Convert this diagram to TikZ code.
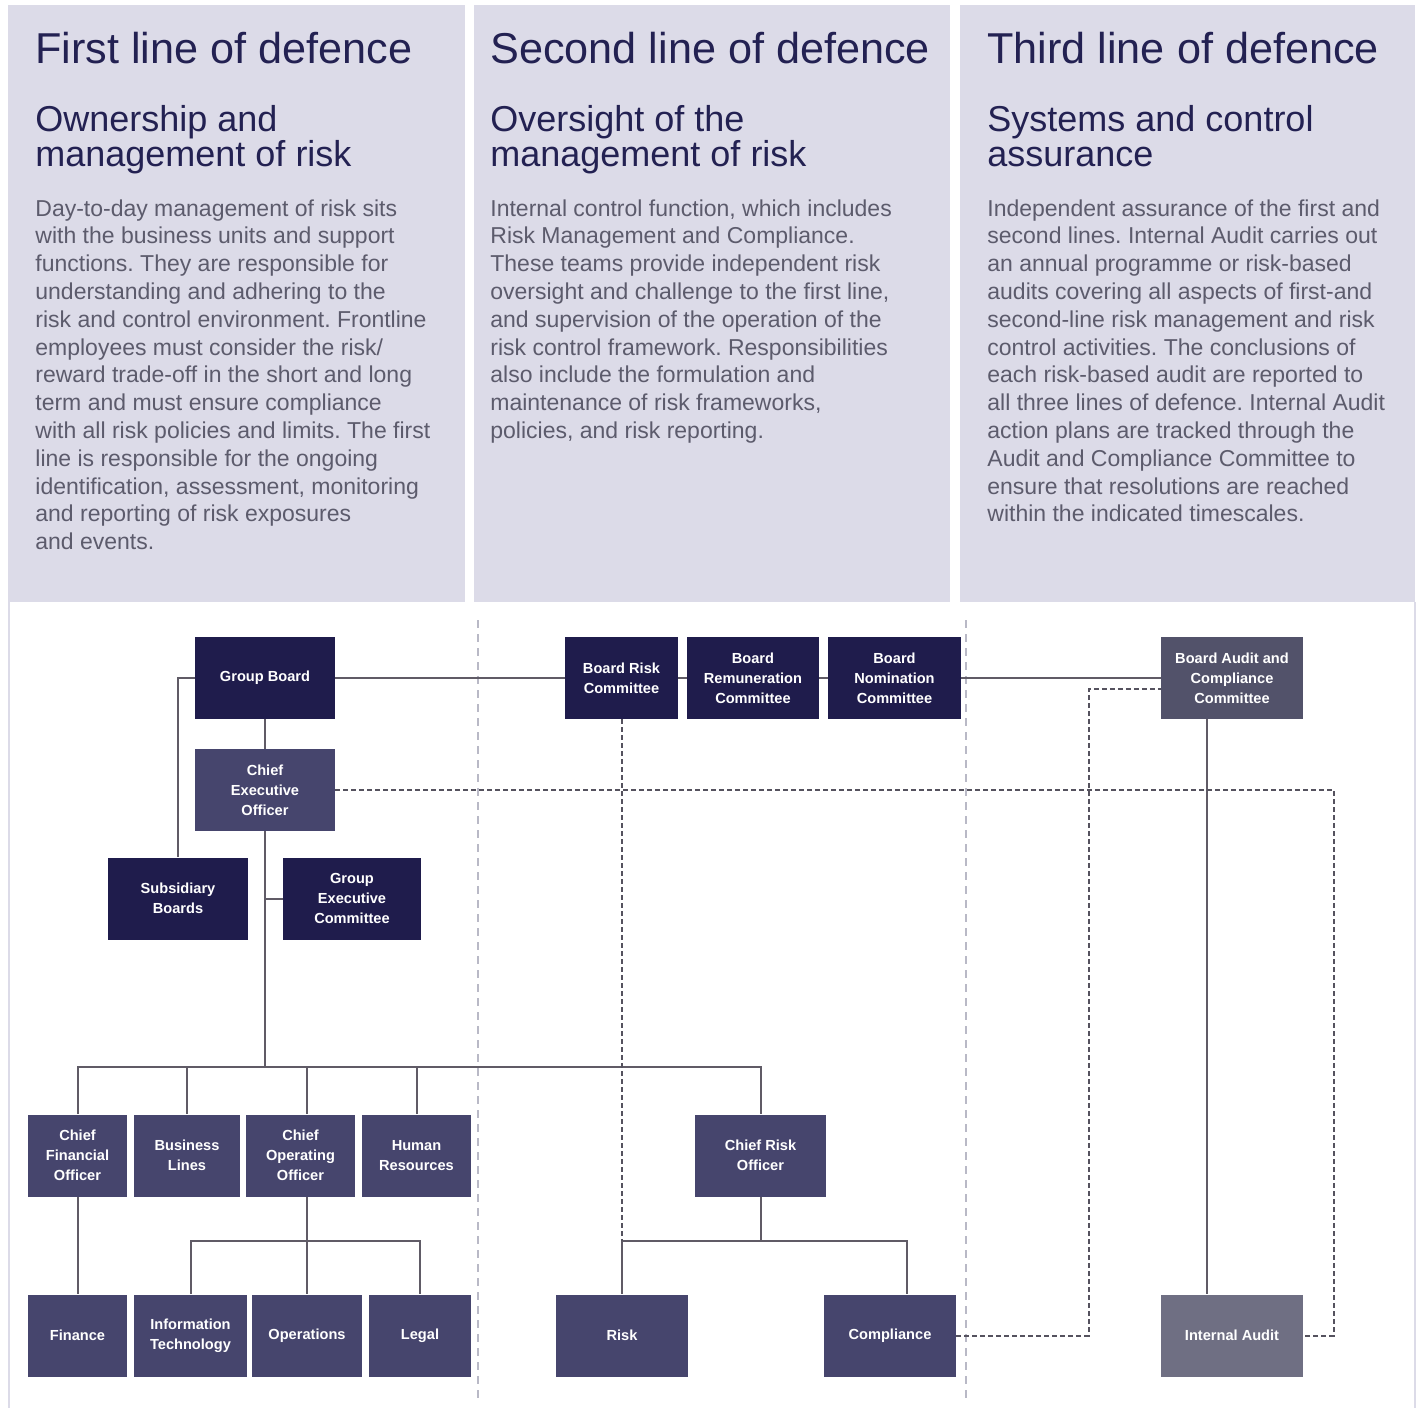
\documentclass[tikz,border=0pt]{standalone}
\usepackage{fontspec}
\setmainfont{Liberation Sans}
\usepackage{tikz}
\usetikzlibrary{positioning, calc}
\definecolor{LoDPanel}{RGB}{220, 219, 232}
\definecolor{LoDNavy}{RGB}{35, 33, 82}
\definecolor{LoDText}{RGB}{92, 91, 108}
\definecolor{LoDBoard}{RGB}{31, 28, 76}
\definecolor{LoDUnit}{RGB}{70, 69, 109}
\definecolor{LoDAudit}{RGB}{82, 82, 106}
\definecolor{LoDIA}{RGB}{111, 111, 131}
\definecolor{LoDLine}{RGB}{96, 91, 102}
\definecolor{LoDDash}{RGB}{85, 82, 94}
\definecolor{LoDSep}{RGB}{185, 185, 198}
\frenchspacing

\begin{document}
\begin{tikzpicture}[x=0.5pt, y=-0.5pt,
    box/.style={inner sep=0pt, minimum height=41pt, text=white, align=center,
                font=\fontsize{7.3}{10}\selectfont\bfseries},
    heading/.style={anchor=base west, inner sep=0pt, text=LoDNavy,
                font=\fontsize{21.6}{26}\selectfont},
    subheading/.style={anchor=base west, inner sep=0pt, text=LoDNavy, align=left,
                font=\fontsize{18}{17.5}\selectfont},
    bodytext/.style={anchor=base west, inner sep=0pt, text=LoDText, align=left,
                font=\fontsize{11.5}{13.9}\selectfont},
    link/.style={draw=LoDLine, line width=1pt},
    report/.style={draw=LoDDash, line width=1pt, dash pattern=on 2.5pt off 1.5pt},
    divider/.style={draw=LoDSep, line width=0.8pt, dash pattern=on 4pt off 3pt}]
  \useasboundingbox (0,0) rectangle (1423,1408);

  % the three panels (text nodes sit on the baseline of their last line)
  \fill[LoDPanel] (8,5) rectangle (465,602);
  \fill[LoDPanel] (474,5) rectangle (950,602);
  \fill[LoDPanel] (960,5) rectangle (1415,602);
  \draw[LoDPanel, line width=1pt] (9,602) -- (9,1408);
  \draw[LoDPanel, line width=1pt] (1415,602) -- (1415,1408);

  \node[heading] (head1) at (35,63) {First line of defence};
  \node[subheading] (sub1) at (35,166) {Ownership and\\management of risk};
  \node[bodytext] (body1) at (35,549.6)
       {Day-to-day management of risk sits\\with the business units and support\\functions. They are responsible for\\understanding and adhering to the\\risk and control environment. Frontline\\employees must consider the risk/\\reward trade-off in the short and long\\term and must ensure compliance\\with all risk policies and limits. The first\\line is responsible for the ongoing\\identification, assessment, monitoring\\and reporting of risk exposures\\and events.};

  \node[heading] (head2) at (490,63) {Second line of defence};
  \node[subheading] (sub2) at (490,166) {Oversight of the\\management of risk};
  \node[bodytext] (body2) at (490,438.4)
       {Internal control function, which includes\\Risk Management and Compliance.\\These teams provide independent risk\\oversight and challenge to the first line,\\and supervision of the operation of the\\risk control framework. Responsibilities\\also include the formulation and\\maintenance of risk frameworks,\\policies, and risk reporting.};

  \node[heading] (head3) at (987,63) {Third line of defence};
  \node[subheading] (sub3) at (987,166) {Systems and control\\assurance};
  \node[bodytext] (body3) at (987,521.8)
       {Independent assurance of the first and\\second lines. Internal Audit carries out\\an annual programme or risk-based\\audits covering all aspects of first-and\\second-line risk management and risk\\control activities. The conclusions of\\each risk-based audit are reported to\\all three lines of defence. Internal Audit\\action plans are tracked through the\\Audit and Compliance Committee to\\ensure that resolutions are reached\\within the indicated timescales.};

  % column dividers
  \draw[divider] (478,620) -- (478,1400);
  \draw[divider] (966,620) -- (966,1400);

  % org chart boxes
  \node[box, fill=LoDBoard, minimum width=70pt] (grpboard) at (265,678) {Group Board};
  \node[box, fill=LoDUnit, minimum width=70pt] (ceo) at (265,790) {Chief\\Executive\\Officer};
  \node[box, fill=LoDBoard, minimum width=70pt] (subboards) at (178,898.5) {Subsidiary\\Boards};
  \node[box, fill=LoDBoard, minimum width=69pt] (gec) at (352,898.5) {Group\\Executive\\Committee};
  \node[box, fill=LoDBoard, minimum width=56.5pt] (brc) at (621.5,678) {Board Risk\\Committee};
  \node[box, fill=LoDBoard, minimum width=66pt] (brem) at (753,678) {Board\\Remuneration\\Committee};
  \node[box, fill=LoDBoard, minimum width=66.5pt] (bnom) at (894.5,678) {Board\\Nomination\\Committee};
  \node[box, fill=LoDAudit, minimum width=71pt] (bacc) at (1232,678) {Board Audit and\\Compliance\\Committee};

  \node[box, fill=LoDUnit, minimum width=49.5pt] (cfo) at (77.5,1155.5) {Chief\\Financial\\Officer};
  \node[box, fill=LoDUnit, minimum width=53pt] (buslines) at (187,1155.5) {Business\\Lines};
  \node[box, fill=LoDUnit, minimum width=54.5pt] (coo) at (300.5,1155.5) {Chief\\Operating\\Officer};
  \node[box, fill=LoDUnit, minimum width=54.5pt] (hr) at (416.5,1155.5) {Human\\Resources};
  \node[box, fill=LoDUnit, minimum width=65.5pt] (cro) at (760.5,1155.5) {Chief Risk\\Officer};

  \node[box, fill=LoDUnit, minimum width=49.5pt] (finance) at (77.5,1335.5) {Finance};
  \node[box, fill=LoDUnit, minimum width=56.5pt] (infotech) at (190.5,1335.5) {Information\\Technology};
  \node[box, fill=LoDUnit, minimum width=55pt] (ops) at (307,1335.5) {Operations};
  \node[box, fill=LoDUnit, minimum width=51pt] (legal) at (420,1335.5) {Legal};
  \node[box, fill=LoDUnit, minimum width=66pt] (risk) at (622,1335.5) {Risk};
  \node[box, fill=LoDUnit, minimum width=66pt] (compl) at (890,1335.5) {Compliance};
  \node[box, fill=LoDIA, minimum width=71pt] (intaudit) at (1232,1335.5) {Internal Audit};

  % bus lines and drop points
  \coordinate (mainbus) at (0,1067);
  \coordinate (lowbus) at (0,1241);
  \coordinate (coox) at (307,0);
  \coordinate (complx) at (907,0);
  \coordinate (auditx) at (1207,0);
  \coordinate (ceoloop) at (1334,0);
  \coordinate (reportx) at (1089,689);

  % reporting lines
  \draw[link] (grpboard.east) -- (brc.west);
  \draw[link] (brc.east) -- (brem.west);
  \draw[link] (brem.east) -- (bnom.west);
  \draw[link] (bnom.east) -- (bacc.west);
  \draw[link] (grpboard.west) -| (subboards.north);
  \draw[link] (grpboard.south) -- (ceo.north);
  \draw[link] (ceo.south) -- (ceo.south |- mainbus);
  \draw[link] (gec.west) -- (gec.west -| ceo.south);
  \draw[link] (cfo.north) -- (cfo.north |- mainbus) -- (cro.north |- mainbus) -- (cro.north);
  \draw[link] (buslines.north) -- (buslines.north |- mainbus);
  \draw[link] (coo.north -| coox) -- (coox |- mainbus);
  \draw[link] (hr.north) -- (hr.north |- mainbus);
  \draw[link] (cfo.south) -- (finance.north);
  \draw[link] (coo.south -| coox) -- (ops.north);
  \draw[link] (infotech.north) |- (lowbus -| legal.north) -- (legal.north);
  \draw[link] (cro.south) -- (cro.south |- lowbus);
  \draw[link] (risk.north) |- (lowbus -| complx) -- (compl.north -| complx);
  \draw[link] (bacc.south -| auditx) -- (intaudit.north -| auditx);

  % dotted lines
  \draw[report] (ceo.east) -| (ceoloop |- intaudit.east) -- (intaudit.east);
  \draw[report] (brc.south) -- (brc.south |- lowbus);
  \draw[report] (compl.east) -| (reportx) -- (reportx -| bacc.west);
\end{tikzpicture}
\end{document}
